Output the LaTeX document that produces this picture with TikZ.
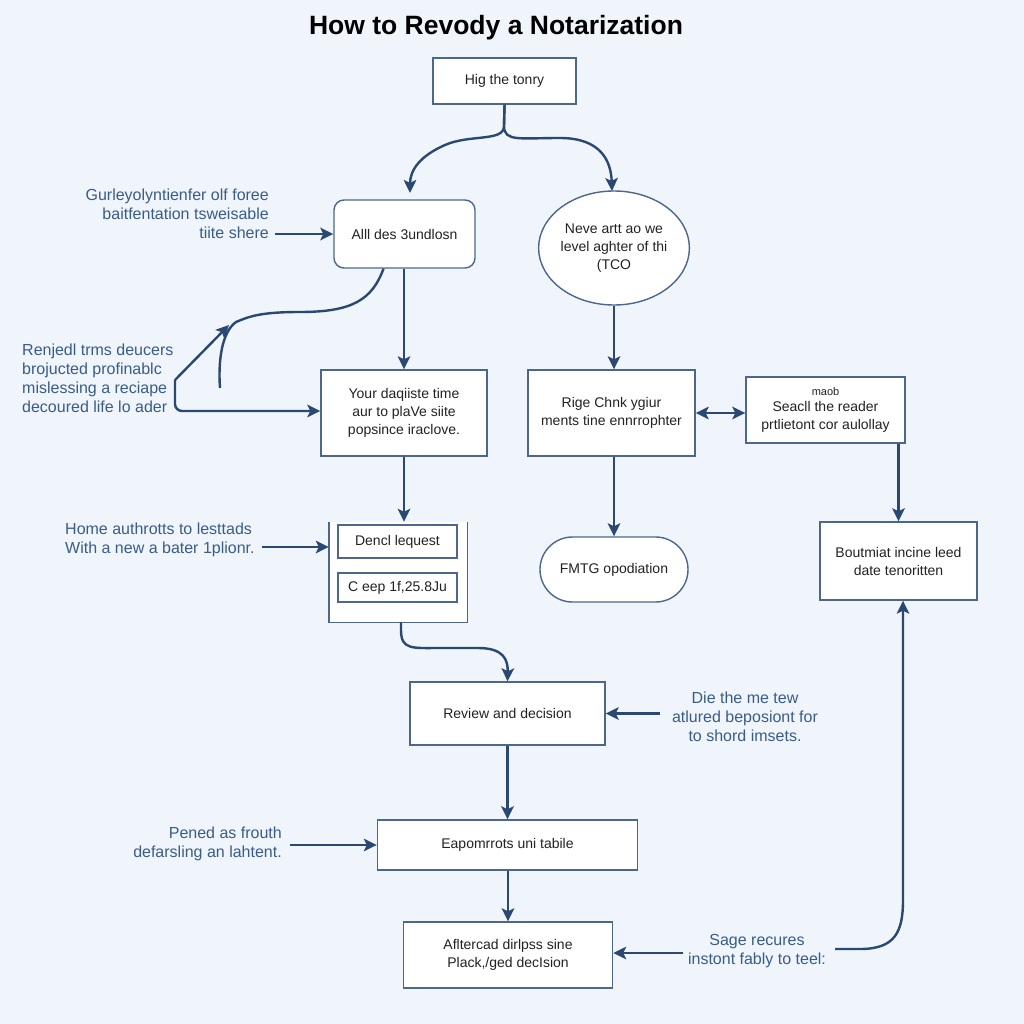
\documentclass[tikz,border=0pt]{standalone}
\usepackage{fontspec}
\setmainfont{Liberation Sans}
\usetikzlibrary{arrows.meta,shapes.geometric,shapes.misc,calc}
\definecolor{bg}{HTML}{EFF5FA}
\definecolor{edgec}{HTML}{4D678C}
\definecolor{arr}{HTML}{2A4872}
\definecolor{notec}{HTML}{3A5C88}
\definecolor{ink}{HTML}{222222}
\begin{document}
\begin{tikzpicture}[x=1pt,y=-1pt,
  box/.style={draw=edgec, line width=1.4pt, fill=white, text=ink, font=\fontsize{14}{18}\selectfont, align=center, inner sep=0pt},
  note/.style={text=notec, font=\fontsize{16}{19}\selectfont, inner sep=0pt},
  tip/.tip={Stealth[length=13pt,width=12.5pt,inset=3pt]},
  conn/.style={draw=arr, line width=2.4pt, -tip},
  plain/.style={draw=arr, line width=2.4pt}
]
\fill[bg] (0,0) rectangle (1024,1024);
\useasboundingbox (0,0) rectangle (1024,1024);

\node[font=\bfseries\fontsize{26.5}{30}\selectfont, text=black, inner sep=0pt] (title) at (496,28) {How to Revody a Notarization};

\node[box, minimum width=143pt, minimum height=46pt] (top) at (504.5,81) {Hig the tonry};
\node[box, rounded corners=10pt, minimum width=141pt, minimum height=68pt] (all) at (404.5,234) {Alll des 3undlosn};
\node[box, ellipse, minimum width=144pt, minimum height=114pt] (ell) at (614,248) {Neve artt ao we\\level aghter of thi\\(TCO};
\node[box, minimum width=166pt, minimum height=86pt] (your) at (404,413) {Your daqiiste time\\aur to plaVe siite\\popsince iraclove.};
\node[box, minimum width=167pt, minimum height=86pt] (rige) at (611.5,413) {Rige Chnk ygiur\\ments tine ennrrophter};
\node[box, minimum width=159pt, minimum height=66pt] (seacl) at (825.5,410) {{\fontsize{11}{12}\selectfont maob}\\[-2pt]Seacll the reader\\prtlietont cor aulollay};
\node[box, minimum width=157pt, minimum height=78pt] (bout) at (898.5,561) {Boutmiat incine leed\\date tenoritten};

\node[fill=white, minimum width=138pt, minimum height=100pt, inner sep=0pt] (cont) at (398,572) {};
\draw[draw=edgec, line width=1.4pt] (cont.north west) -- (cont.south west) -- (cont.south east) -- (cont.north east);
\node[box, minimum width=119pt, minimum height=33pt] (dencl) at (397.5,541.5) {Dencl lequest};
\node[box, minimum width=119pt, minimum height=29pt] (ceep) at (397.5,587.5) {C eep 1f,25.8Ju};

\node[box, rounded rectangle, minimum width=148pt, minimum height=65pt] (fmtg) at (614,569.5) {FMTG opodiation};
\node[box, minimum width=195pt, minimum height=63pt] (review) at (507.5,713.5) {Review and decision};
\node[box, minimum width=260pt, minimum height=50pt] (eapo) at (507.5,845) {Eapomrrots uni tabile};
\node[box, minimum width=209pt, minimum height=66pt] (after) at (508,955) {Afltercad dirlpss sine\\Plack,/ged decIsion};

\node[note, anchor=east, align=right] (n1) at (269,214) {Gurleyolyntienfer olf foree\\baitfentation tsweisable\\tiite shere};
\node[note, anchor=west, align=left] (n2) at (22,378) {Renjedl trms deucers\\brojucted profinablc\\mislessing a reciape\\decoured life lo ader};
\node[note, anchor=west, align=left] (n3) at (65,539.5) {Home authrotts to lesttads\\With a new a bater 1plionr.};
\node[note, align=center] (n4) at (745,717) {Die the me tew\\atlured beposiont for\\to shord imsets.};
\node[note, anchor=east, align=right] (n5) at (282,844) {Pened as frouth\\defarsling an lahtent.};
\node[note, align=center] (n6) at (757,951) {Sage recures\\instont fably to teel:};

% connectors
\draw[conn] (top.south) -- (504,126) .. controls (504,142) and (470,134) .. (445,145) .. controls (420,156) and (410,170) .. (410,193);
\draw[conn] (top.south) -- (504,126) .. controls (504,142) and (520,138) .. (560,138) .. controls (600,138) and (611,160) .. (612,191);

\coordinate (a1) at (275,234);
\draw[conn] (a1) -- (a1 -| all.west);

\draw[plain] ($(all.south)+(-21,0)$) .. controls (372,300) and (352,312) .. (300,312) .. controls (262,312) and (250,316) .. (236,322) .. controls (222,332) and (218,360) .. (220,388);
\coordinate (k) at (175,380);
\coordinate (kt) at (229,325);
\draw[conn] (k) -- (kt);
\draw[conn, rounded corners=7pt] (k) -- (175,411) -- (your.west |- 0,411);

\draw[conn] (your.north |- all.south) -- (your.north);
\draw[conn] (ell.south) -- (ell.south |- rige.north);
\draw[draw=arr, line width=2.4pt, tip-tip] (rige.east) -- (rige.east -| seacl.west);
\draw[conn] (bout.north |- seacl.south) -- (bout.north);

\draw[conn] (your.south) -- (your.south |- cont.north);
\coordinate (a3) at (262,547);
\draw[conn] (a3) -- (a3 -| cont.west);
\draw[conn] (rige.south -| fmtg.north) -- (fmtg.north);

\draw[conn] ($(cont.south)+(3,0)$) -- (401,630) .. controls (401,650) and (412,648) .. (440,648) -- (478,648) .. controls (504,648) and (508,660) .. (review.north);
\coordinate (a4) at (660,713.5);
\draw[conn] (a4) -- (review.east);
\draw[conn] (review.south) -- (review.south |- eapo.north);
\coordinate (a5) at (290,845);
\draw[conn] (a5) -- (eapo.west);
\draw[conn] (after.north |- eapo.south) -- (after.north);
\coordinate (a6) at (683,953);
\draw[conn] (a6) -- (a6 -| after.east);
\coordinate (a7) at (835,949);
\draw[conn] (a7) -- (860,949) .. controls (895,949) and (903,932) .. (903,900) -- ($(bout.south)+(4.5,0)$);
\end{tikzpicture}
\end{document}
